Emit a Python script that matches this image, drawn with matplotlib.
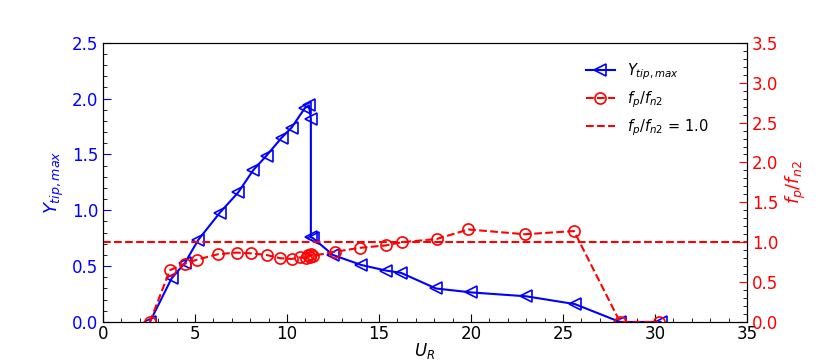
import matplotlib.pyplot as plt
from matplotlib.ticker import MultipleLocator

# U_R vs tip amplitude
ur_y = [2.55, 3.73, 4.46, 5.18, 6.36, 7.35, 8.17, 8.89, 9.71, 10.25, 10.97, 11.2,
        11.3, 11.3, 11.42, 12.5, 14.05, 15.4, 16.2, 18.1, 20.0, 23.0, 25.65, 28.1, 30.3]
y_tip = [0.0, 0.39, 0.53, 0.735, 0.98, 1.16, 1.36, 1.49, 1.65, 1.74, 1.915, 1.94,
         1.82, 0.76, 0.75, 0.60, 0.51, 0.46, 0.44, 0.30, 0.265, 0.23, 0.16, 0.0, 0.0]

# U_R vs frequency ratio
ur_f = [2.55, 3.64, 4.46, 5.09, 6.26, 7.26, 8.07, 8.89, 9.62, 10.25, 10.7, 11.05,
        11.15, 11.23, 11.32, 11.42, 12.6, 13.97, 15.38, 16.23, 18.13, 19.86, 22.93,
        25.6, 28.1, 30.2]
f_ratio = [0.0, 0.65, 0.73, 0.78, 0.85, 0.87, 0.86, 0.84, 0.80, 0.79, 0.81, 0.80,
           0.84, 0.82, 0.85, 0.83, 0.88, 0.93, 0.96, 1.0, 1.04, 1.16, 1.10,
           1.14, 0.0, 0.0]

fig = plt.figure(figsize=(8.3, 3.63), dpi=100)
ax = fig.add_axes([0.124, 0.113, 0.776, 0.769])
ax2 = ax.twinx()

l1, = ax.plot(ur_y, y_tip, '-', color='blue', marker='<', mfc='none', ms=9,
              mew=1.2, lw=1.5, label='$Y_{tip,max}$')
l2, = ax2.plot(ur_f, f_ratio, '--', color='red', marker='o', mfc='none', ms=8,
               mew=1.2, lw=1.5, label='$f_p/f_{n2}$')
l3 = ax2.axhline(1.0, color='red', ls='--', lw=1.5, label='$f_p/f_{n2}$ = 1.0')

ax.set_xlim(0, 35)
ax.set_ylim(0, 2.5)
ax2.set_ylim(0, 3.5)
ax.xaxis.set_major_locator(MultipleLocator(5))
ax.xaxis.set_minor_locator(MultipleLocator(1))
ax.yaxis.set_major_locator(MultipleLocator(0.5))
ax.yaxis.set_minor_locator(MultipleLocator(0.1))
ax2.yaxis.set_major_locator(MultipleLocator(0.5))
ax2.yaxis.set_minor_locator(MultipleLocator(0.1))

ax.tick_params(which='both', direction='in', top=False, labelsize=12)
ax.tick_params(axis='y', which='major', colors='blue', length=6)
ax.tick_params(axis='x', which='major', length=6, pad=2)
ax.tick_params(which='minor', length=3)
ax2.tick_params(which='both', direction='in', labelsize=12)
ax2.tick_params(axis='y', which='major', colors='red', length=6)
ax2.tick_params(which='minor', length=3)

ax.set_xlabel('$U_R$', fontsize=12, labelpad=-1)
ax.set_ylabel('$Y_{tip,max}$', color='blue', fontsize=13)
ax2.set_ylabel('$f_p/f_{n2}$', color='red', fontsize=13)

ax2.legend(handles=[l1, l2, l3], loc='upper right', frameon=False, fontsize=10.5,
           bbox_to_anchor=(0.96, 0.98))

fig.savefig('out.png')
